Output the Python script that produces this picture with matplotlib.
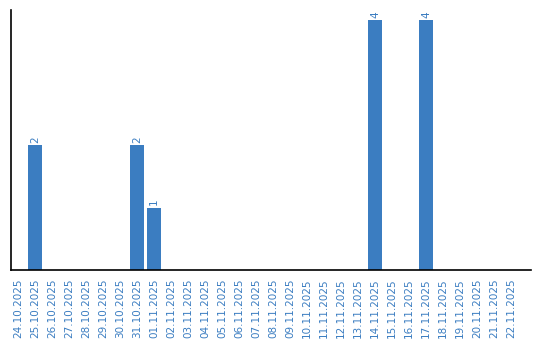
import matplotlib
matplotlib.use("Agg")
import matplotlib.pyplot as plt

# days shown along the bottom
dates = ["24.10.2025", "25.10.2025", "26.10.2025", "27.10.2025", "28.10.2025",
         "29.10.2025", "30.10.2025", "31.10.2025", "01.11.2025", "02.11.2025",
         "03.11.2025", "04.11.2025", "05.11.2025", "06.11.2025", "07.11.2025",
         "08.11.2025", "09.11.2025", "10.11.2025", "11.11.2025", "12.11.2025",
         "13.11.2025", "14.11.2025", "15.11.2025", "16.11.2025", "17.11.2025",
         "18.11.2025", "19.11.2025", "20.11.2025", "21.11.2025", "22.11.2025"]
counts = [0, 2, 0, 0, 0, 0, 0, 2, 1, 0,
          0, 0, 0, 0, 0, 0, 0, 0, 0, 0,
          0, 4, 0, 0, 4, 0, 0, 0, 0, 0]

blue = "#3b7dc1"

fig = plt.figure(figsize=(5.4, 3.4), dpi=100)
ax = fig.add_axes([11 / 540, 70 / 340, 520 / 540, 260 / 340])

x = list(range(len(dates)))
ax.bar(x, counts, width=0.82, color=blue)
for i, v in enumerate(counts):
    if v > 0:
        ax.text(i, v + 0.04, str(v), rotation=90, ha="center", va="bottom",
                color=blue, fontsize=7.5)

ax.set_xlim(-0.41, 30.18)
ax.set_ylim(0, 4.16)
ax.set_xticks(x)
ax.set_xticklabels(dates, rotation=90, color=blue, fontsize=7.5)
ax.tick_params(axis="x", length=0, pad=6)
ax.set_yticks([])
ax.spines["top"].set_visible(False)
ax.spines["right"].set_visible(False)
ax.spines["left"].set_linewidth(1.2)
ax.spines["bottom"].set_linewidth(1.2)

fig.savefig("out.png", dpi=100)
